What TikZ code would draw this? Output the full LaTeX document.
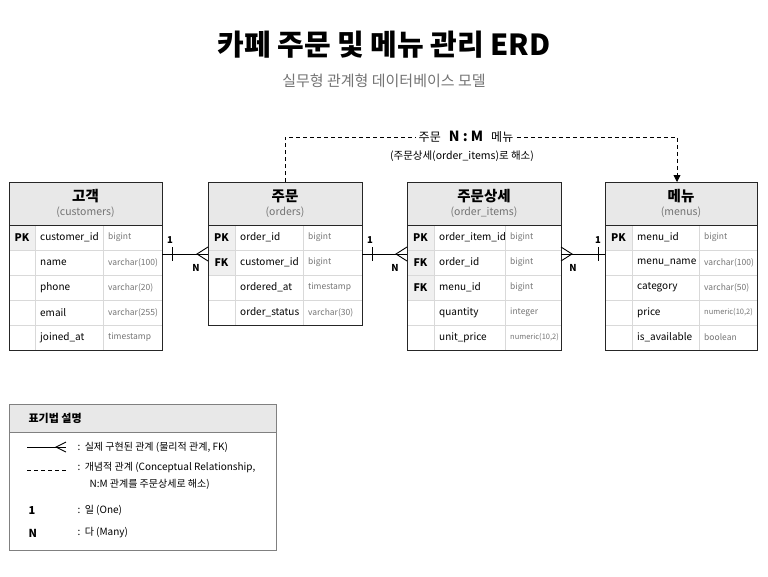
\documentclass[tikz,border=0pt]{standalone}
\usepackage{fontspec}
\setmainfont{Noto Sans CJK KR}
\usetikzlibrary{arrows.meta}
\definecolor{hdrgray}{gray}{0.91}
\definecolor{txtgray}{gray}{0.45}
\tikzset{
	tbl/.style = {draw=black!85, line width=0.9pt},
	grid/.style = {draw=black!15, line width=0.5pt},
	rel/.style = {draw=black, line width=0.9pt},
	concept/.style = {draw=black, line width=0.8pt, dash pattern=on 4pt off 3pt},
	keytxt/.style = {font=\fontsize{10.5}{12}\selectfont\bfseries, anchor=center},
	coltxt/.style = {font=\fontsize{10}{12}\selectfont, anchor=west, inner xsep=2pt},
	typetxt/.style = {font=\fontsize{8.5}{10}\selectfont, text=txtgray, anchor=west, inner xsep=2pt},
	legtxt/.style = {font=\fontsize{10}{12}\selectfont, anchor=west}
}
% #1 id, #2 left x, #3 right x, #4 split1, #5 split2, #6 rows, #7 title, #8 sub, #9 row list
\newcommand{\erdbox}[9]{%
	\pgfmathsetmacro{\yb}{225+25*#6}
	\fill[hdrgray] (#2,182) rectangle (#3,225);
	\node[font=\fontsize{14.5}{16}\selectfont\bfseries] (#1-t) at ({(#2+#3)/2},196) {#7};
	\node[font=\fontsize{10.5}{12}\selectfont, text=txtgray] (#1-s) at ({(#2+#3)/2},212) {#8};
	\foreach \k/\c/\ty [count=\i] in {#9} {
		\pgfmathsetmacro{\yt}{225+25*(\i-1)}
		\ifx\k\empty\else
			\fill[black!6] (#2,\yt) rectangle (#4,\yt+25);
		\fi
		\draw[grid] (#2,\yt) -- (#3,\yt);
		\node[keytxt] (#1-k\i) at ({(#2+#4)/2},\yt+12.5) {\k};
		\node[coltxt] (#1-c\i) at (#4+3,\yt+12.5) {\c};
		\node[typetxt] (#1-y\i) at (#5+3,\yt+12.5) {\ty};
	}
	\draw[grid] (#4,225) -- (#4,\yb);
	\draw[grid] (#5,225) -- (#5,\yb);
	\draw[tbl] (#2,225) -- (#3,225);
	\draw[tbl] (#2,182) rectangle (#3,\yb);
}
\begin{document}
\begin{tikzpicture}[x=1pt, y=-1pt]
	\useasboundingbox (0,0) rectangle (768,576);

	% title
	\node[font=\fontsize{29}{32}\selectfont\bfseries] (title) at (384,45) {카페 주문 및 메뉴 관리 ERD};
	\node[font=\fontsize{15}{17}\selectfont, text=txtgray] (subtitle) at (384,81) {실무형 관계형 데이터베이스 모델};

	% tables
	\erdbox{cust}{9}{162}{35}{103}{5}{고객}{(customers)}{PK/customer\_id/bigint, /name/varchar(100), /phone/varchar(20), /email/varchar(255), /joined\_at/timestamp}
	\erdbox{ord}{208}{362}{235}{303}{4}{주문}{(orders)}{PK/order\_id/bigint, FK/customer\_id/bigint, /ordered\_at/timestamp, /order\_status/varchar(30)}
	\erdbox{item}{407}{561}{434}{505}{5}{주문상세}{(order\_items)}{PK/order\_item\_id/bigint, FK/order\_id/bigint, FK/menu\_id/bigint, /quantity/integer, /unit\_price/{\fontsize{7.5}{8}\selectfont numeric(10,2)}}
	\erdbox{menu}{605}{757}{632}{699}{5}{메뉴}{(menus)}{PK/menu\_id/bigint, /menu\_name/varchar(100), /category/varchar(50), /price/{\fontsize{7.5}{8}\selectfont numeric(10,2)}, /is\_available/boolean}

	% relationship ends
	\coordinate (c-r) at (162,254);
	\coordinate (o-l) at (208,254);
	\coordinate (o-r) at (362,254);
	\coordinate (i-l) at (407,254);
	\coordinate (i-r) at (561,254);
	\coordinate (m-l) at (605,254);

	% customers 1 -- N orders
	\draw[rel] (c-r) -- (o-l);
	\draw[rel] (172,247) -- (172,261);
	\draw[rel] (o-l |- 0,247) -- (197,254) -- (o-l |- 0,261);
	\node[font=\fontsize{9.5}{10}\selectfont\bfseries] (one1) at (170,240) {1};
	\node[font=\fontsize{9.5}{10}\selectfont\bfseries] (n1) at (196,268) {N};

	% orders 1 -- N order_items
	\draw[rel] (o-r) -- (i-l);
	\draw[rel] (372,247) -- (372,261);
	\draw[rel] (i-l |- 0,247) -- (396,254) -- (i-l |- 0,261);
	\node[font=\fontsize{9.5}{10}\selectfont\bfseries] (one2) at (370,240) {1};
	\node[font=\fontsize{9.5}{10}\selectfont\bfseries] (n2) at (395,268) {N};

	% menus 1 -- N order_items
	\draw[rel] (i-r) -- (m-l);
	\draw[rel] (598,247) -- (598,261);
	\draw[rel] (i-r |- 0,247) -- (572,254) -- (i-r |- 0,261);
	\node[font=\fontsize{9.5}{10}\selectfont\bfseries] (one3) at (598,240) {1};
	\node[font=\fontsize{9.5}{10}\selectfont\bfseries] (n3) at (573,268) {N};

	% conceptual N:M
	\node[font=\fontsize{12}{14}\selectfont] (nm) at (466,137) {주문 \ \ {\fontsize{14}{14}\selectfont\textbf{N : M}} \ \ 메뉴};
	\node[font=\fontsize{10.5}{12}\selectfont] (nm-sub) at (462,156) {(주문상세(order\_items)로 해소)};
	\draw[concept] (285,182) -- (285,137) -- (nm.west);
	\draw[concept, -{Triangle[length=7pt,width=7pt]}] (nm.east) -- (677,137) -- (677,182);

	% legend
	\fill[hdrgray] (9,404) rectangle (276,432);
	\draw[black!50, line width=0.7pt] (9,432) -- (276,432);
	\draw[black!50, line width=0.7pt] (9,404) rectangle (276,550);
	\node[font=\fontsize{11}{12}\selectfont\bfseries, anchor=west] (lg-t) at (25,418) {표기법 설명};
	\draw[rel] (27,447) -- (66,447);
	\draw[rel] (66,442) -- (56,447) -- (66,452);
	\node[legtxt] (lg-1) at (74,447) {:\ \ 실제 구현된 관계 (물리적 관계, FK)};
	\draw[concept] (27,470) -- (66,470);
	\node[legtxt] (lg-2) at (74,468) {:\ \ 개념적 관계 (Conceptual Relationship,};
	\node[legtxt] (lg-2b) at (86,484) {N:M 관계를 주문상세로 해소)};
	\node[font=\fontsize{11}{12}\selectfont\bfseries, anchor=west] (lg-one) at (25,510) {1};
	\node[legtxt] (lg-3) at (74,510) {:\ \ 일 (One)};
	\node[font=\fontsize{11}{12}\selectfont\bfseries, anchor=west] (lg-n) at (25,533) {N};
	\node[legtxt] (lg-4) at (74,533) {:\ \ 다 (Many)};
\end{tikzpicture}
\end{document}
